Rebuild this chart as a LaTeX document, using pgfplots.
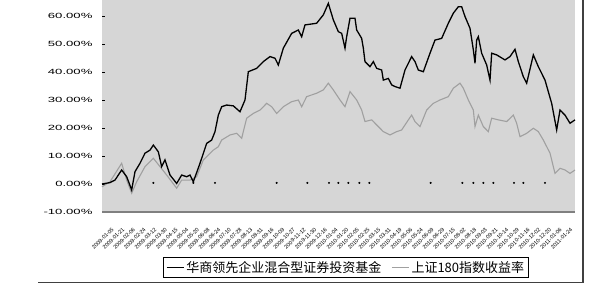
\documentclass[border=0pt]{standalone}
\usepackage{pgfplots}
\pgfplotsset{compat=1.18}
\usepackage{fontspec}
\setmainfont{Liberation Sans}
\newfontfamily\cjk{Noto Sans CJK SC}
\definecolor{plotbg}{RGB}{214,214,214}
\definecolor{lgray}{RGB}{160,160,160}
\definecolor{agray}{RGB}{128,128,128}
\newcommand{\yl}[1]{\scalebox{1.75}[1]{#1}}
\begin{document}
\begin{tikzpicture}[x=1pt,y=1pt]
\path[use as bounding box] (0,0) rectangle (616,287);
\fill[plotbg] (102,75) rectangle (575,287);
\begin{axis}[
  at={(102pt,75pt)}, anchor=south west,
  scale only axis, width=473pt, height=212pt,
  xmin=36, xmax=1455, ymin=-10, ymax=65.7,
  axis line style={draw=none},
  ytick={-10,0,10,20,30,40,50,60},
  yticklabels={\yl{-10.00\%},\yl{0.00\%},\yl{10.00\%},\yl{20.00\%},\yl{30.00\%},\yl{40.00\%},\yl{50.00\%},\yl{60.00\%}},
  yticklabel style={font=\fontsize{7.5}{8}\selectfont, xshift=-6pt},
  ytick pos=left, tick align=inside,
  major tick length=3pt,
  every tick/.style={black, line width=0.8pt},
  xtick={45,77,...,1421},
  xticklabels={2009-01-05,2009-01-21,2009-02-06,2009-02-24,2009-03-12,2009-03-30,2009-04-15,2009-05-04,2009-05-20,2009-06-08,2009-06-24,2009-07-10,2009-07-28,2009-08-13,2009-08-31,2009-09-16,2009-10-09,2009-10-27,2009-11-12,2009-11-30,2009-12-16,2010-01-04,2010-01-20,2010-02-05,2010-02-25,2010-03-15,2010-03-31,2010-04-19,2010-05-06,2010-05-24,2010-06-09,2010-06-29,2010-07-15,2010-08-02,2010-08-18,2010-09-03,2010-09-21,2010-10-14,2010-10-29,2010-11-16,2010-12-02,2010-12-20,2011-01-06,2011-01-24},
  xticklabel style={font=\fontsize{5.5}{6}\selectfont, rotate=45, anchor=north east, inner sep=0pt, yshift=-15pt, xshift=-6pt},
  x tick style={draw=none},
  legend style={at={(0.516,-0.262)}, anchor=center, draw=black, line width=1pt,
    font=\cjk\fontsize{13}{15}\selectfont, legend columns=2,
    /tikz/every even column/.append style={column sep=8pt}, inner sep=2pt},
  legend cell align=left,
  reverse legend,
  clip=false,
]
\draw[agray, line width=1.6pt] (rel axis cs:0,0) -- (rel axis cs:1,0);
\addplot[only marks, mark=*, mark size=0.8pt, black, forget plot] coordinates {
(190,0.4)(310,0.4)(375,0.4)(560,0.4)(652,0.4)(717,0.4)(745,0.4)(775,0.4)(808,0.4)(838,0.4)(1022,0.4)(1117,0.4)(1150,0.4)(1180,0.4)(1210,0.4)(1272,0.4)(1300,0.4)(1365,0.4)};
\addplot[lgray, line width=1.1pt] coordinates {
(36,-1.0)(60,0.8)(95,7.4)(110,1.4)(125,-3.3)(140,0.8)(165,6.2)(190,9.2)(210,6.2)(230,3.2)(260,-1.5)(275,1.4)(300,1.4)(320,2.6)(340,8.6)(370,12.1)(385,13.3)(395,15.7)(420,17.5)(440,18.1)(455,16.3)(470,23.5)(490,25.2)(510,26.4)(530,28.8)(545,27.6)(560,25.2)(580,27.6)(605,29.4)(625,30.0)(635,27.6)(650,31.2)(680,32.4)(700,33.6)(715,36.0)(730,33.6)(750,30.0)(765,27.6)(780,33.0)(800,30.0)(815,26.4)(825,22.3)(845,22.9)(860,21.1)(880,18.7)(900,17.5)(920,18.7)(935,19.3)(955,22.9)(965,24.6)(975,22.3)(990,20.5)(1010,26.4)(1030,28.8)(1050,30.0)(1075,31.2)(1090,34.2)(1110,36.0)(1120,34.2)(1135,30.0)(1150,26.4)(1155,20.5)(1165,24.6)(1180,20.5)(1195,18.7)(1205,23.5)(1225,22.9)(1250,22.3)(1270,24.6)(1280,21.7)(1290,16.9)(1310,18.1)(1330,19.9)(1345,18.7)(1360,15.7)(1380,11.0)(1395,3.8)(1410,5.6)(1425,5.0)(1440,3.8)(1455,5.0)};
\addlegendentry{上证180指数收益率}
\addplot[black, line width=1.3pt] coordinates {
(36,0)(60,0.5)(75,1.4)(95,5.0)(110,2.6)(125,-2.1)(135,4.4)(150,7.4)(165,11.0)(180,12.1)(190,13.9)(205,11.5)(215,6.2)(225,8.6)(240,3.2)(260,0.2)(275,3.2)(290,2.6)(300,3.2)(310,0.8)(330,7.4)(350,14.5)(365,15.7)(375,18.7)(385,24.6)(395,27.6)(410,28.2)(430,27.9)(450,25.8)(465,30.0)(475,40.1)(500,41.3)(520,43.7)(540,45.5)(555,44.9)(565,42.5)(580,48.5)(605,53.8)(625,55.0)(635,52.6)(645,56.8)(680,57.4)(700,60.4)(715,64.5)(730,58.6)(745,54.4)(755,53.8)(765,48.5)(770,52.6)(780,59.2)(795,59.2)(800,55.0)(815,52.0)(820,48.5)(825,43.7)(840,41.9)(850,43.7)(860,41.3)(875,40.7)(880,37.1)(895,37.7)(905,35.4)(915,34.8)(930,34.2)(945,40.7)(965,45.5)(975,43.7)(985,40.7)(1000,40.1)(1020,46.7)(1035,51.4)(1055,52.0)(1075,57.4)(1090,61.0)(1105,63.3)(1115,63.3)(1125,59.8)(1140,55.6)(1150,47.9)(1155,43.1)(1160,51.4)(1165,52.6)(1175,46.7)(1190,42.5)(1200,37.1)(1205,46.7)(1220,46.1)(1245,44.3)(1260,45.5)(1275,48.1)(1285,43.7)(1300,38.3)(1310,36.0)(1330,46.1)(1345,41.9)(1365,37.1)(1385,28.8)(1400,19.3)(1410,26.4)(1425,24.6)(1440,21.7)(1455,22.9)};
\addlegendentry{华商领先企业混合型证券投资基金}
\end{axis}
\draw[black!75, line width=1.5pt] (583,287) -- (583,4.5) -- (38,4.5);
\end{tikzpicture}
\end{document}
